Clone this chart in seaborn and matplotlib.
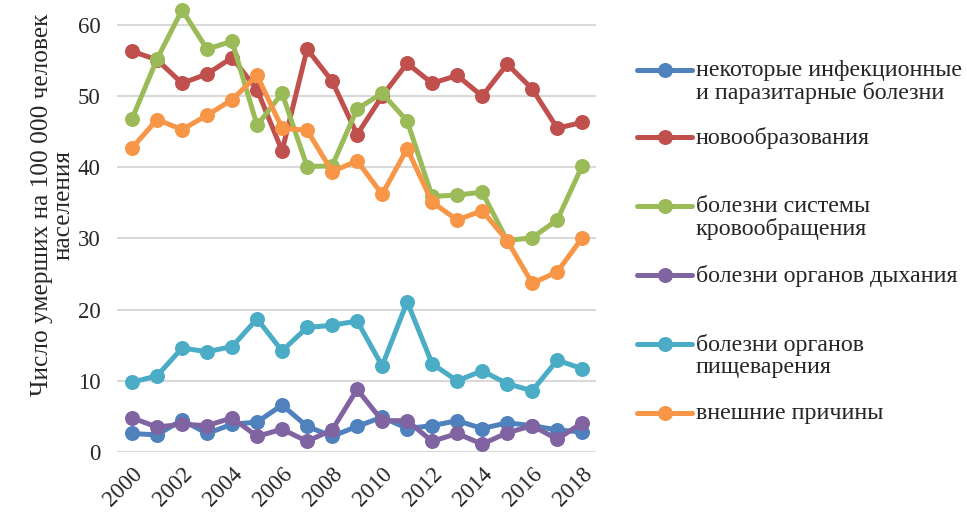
import matplotlib
matplotlib.use("Agg")
import matplotlib.pyplot as plt
from matplotlib.lines import Line2D
import seaborn as sns
import pandas as pd

years = list(range(2000, 2019))
series_names = [
    "некоторые инфекционные\nи паразитарные болезни",
    "новообразования",
    "болезни системы\nкровообращения",
    "болезни органов дыхания",
    "болезни органов\nпищеварения",
    "внешние причины",
]
infectious = [2.6, 2.4, 4.5, 2.6, 3.9, 4.2, 6.6, 3.6, 2.2, 3.6, 4.9, 3.3, 3.7, 4.4, 3.3, 4.1, 3.7, 3.1, 2.8]
neoplasms = [56.3, 55.1, 51.8, 53.1, 55.4, 50.9, 42.3, 56.6, 52.1, 44.6, 50.0, 54.6, 51.8, 52.9, 50.0, 54.5, 51.0, 45.5, 46.3]
circulatory = [46.8, 55.2, 62.1, 56.6, 57.7, 45.9, 50.4, 40.1, 40.2, 48.2, 50.4, 46.5, 35.9, 36.1, 36.5, 29.7, 30.1, 32.6, 40.2]
respiratory = [4.8, 3.5, 3.9, 3.7, 4.8, 2.2, 3.2, 1.5, 3.1, 8.8, 4.4, 4.4, 1.5, 2.6, 1.1, 2.7, 3.7, 1.8, 4.1]
digestive = [9.8, 10.7, 14.6, 14.1, 14.8, 18.7, 14.2, 17.5, 17.8, 18.4, 12.1, 21.1, 12.4, 10.0, 11.4, 9.6, 8.6, 12.9, 11.7]
external = [42.7, 46.7, 45.3, 47.3, 49.5, 52.9, 45.5, 45.2, 39.4, 40.9, 36.2, 42.6, 35.1, 32.6, 33.9, 29.7, 23.7, 25.3, 30.1]
colors = ["#4F81BD", "#C0504D", "#9BBB59", "#8064A2", "#4BACC6", "#F79646"]
y_ticks = [0, 10, 20, 30, 40, 50, 60]
x_ticks = list(range(2000, 2019, 2))
y_label = "Число умерших на 100 000 человек\nнаселения"

values = [infectious, neoplasms, circulatory, respiratory, digestive, external]
df = pd.concat(
    [pd.DataFrame({"year": years, "value": v, "series": n}) for n, v in zip(series_names, values)],
    ignore_index=True,
)

sns.set_theme(style="white")
plt.rcParams["font.family"] = ["Liberation Serif", "DejaVu Serif"]

FS = 16.5
fig = plt.figure(figsize=(9.67, 5.12), dpi=100)
ax = fig.add_axes([117 / 967, 1 - 452 / 512, 479 / 967, 452 / 512])

for i, name in enumerate(series_names):
    sns.lineplot(
        data=df[df["series"] == name], x="year", y="value", ax=ax,
        color=colors[i], linewidth=3.6, marker="o", markersize=10.8,
        markeredgewidth=0, legend=False, zorder=3 + i, clip_on=False,
    )

ax.set_xlim(2000 - 0.6, 2018 + 0.55)
ax.set_ylim(0, 63.5)
ax.set_yticks(y_ticks)
ax.set_xticks(x_ticks)
ax.set_xticklabels([str(x) for x in x_ticks], rotation=45, ha="right",
                   rotation_mode="anchor", fontsize=FS)
ax.set_yticklabels([str(y) for y in y_ticks], fontsize=FS)
ax.tick_params(axis="y", pad=12, length=0)
ax.tick_params(axis="x", pad=8, length=0)
ax.grid(axis="y", color="#D9D9D9", linewidth=1.5, zorder=0)
ax.set_axisbelow(True)
for s in ax.spines.values():
    s.set_visible(False)
ax.set_xlabel("")
ax.set_ylabel("")

fig.text(53 / 967, 1 - 205 / 512, y_label, rotation=90, ha="center", va="center",
         fontsize=18.3, multialignment="center", linespacing=1.0)

# Legend (Excel-like: handle aligned to first line of each label)
legend_y = [70, 137, 206, 275, 344, 413]
for i, name in enumerate(series_names):
    yy = 1 - legend_y[i] / 512
    fig.add_artist(Line2D([637 / 967, 692 / 967], [yy, yy], transform=fig.transFigure,
                          color=colors[i], linewidth=3.6, solid_capstyle="round"))
    fig.add_artist(Line2D([664.5 / 967], [yy], transform=fig.transFigure,
                          color=colors[i], marker="o", markersize=10.8, markeredgewidth=0))
    fig.text(696 / 967, yy + 10 / 512, name, ha="left", va="top", fontsize=17.3,
             linespacing=1.05)

fig.savefig("out.png", dpi=100)
